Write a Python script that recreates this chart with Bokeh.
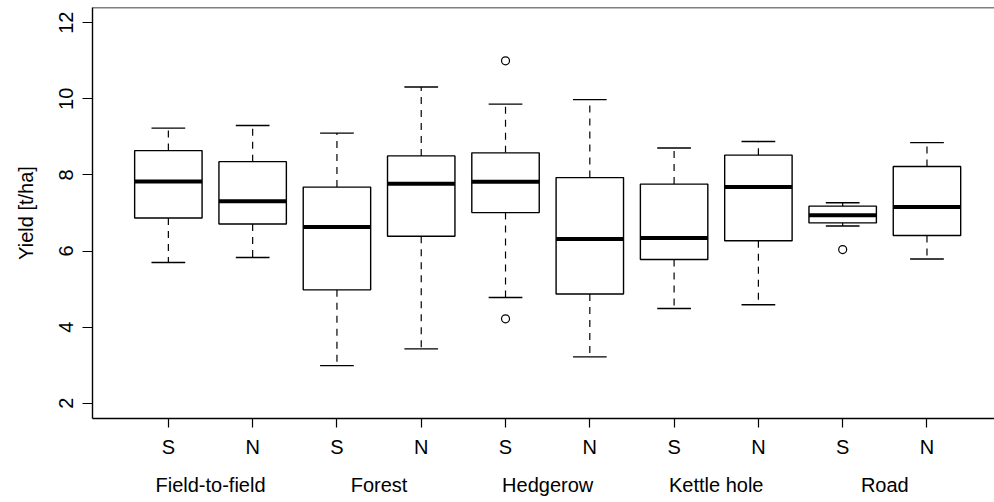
from bokeh.plotting import figure
from bokeh.models import Range1d, FixedTicker, LinearAxis, Span, ColumnDataSource
from bokeh.embed import file_html
from bokeh.resources import INLINE

# ---- data ----
groups = ["Field-to-field", "Forest", "Hedgerow", "Kettle hole", "Road"]
sides = ["S", "N", "S", "N", "S", "N", "S", "N", "S", "N"]
lower_whisker = [5.70, 5.83, 2.99, 3.43, 4.78, 3.22, 4.49, 4.59, 6.66, 5.79]
q1 = [6.87, 6.71, 4.98, 6.39, 7.01, 4.87, 5.78, 6.27, 6.74, 6.41]
median = [7.83, 7.31, 6.63, 7.77, 7.82, 6.32, 6.34, 7.68, 6.94, 7.16]
q3 = [8.64, 8.35, 7.68, 8.50, 8.58, 7.93, 7.76, 8.52, 7.18, 8.22]
upper_whisker = [9.23, 9.30, 9.10, 10.31, 9.86, 9.98, 8.71, 8.88, 7.27, 8.85]
outlier_box = [5, 5, 9]          # 1-based box index
outlier_val = [11.0, 4.22, 6.04]
y_ticks = [2, 4, 6, 8, 10, 12]

FONT = "Liberation Sans"
FS = "20px"
BOX_W = 0.8
CAP_W = 0.4

pos = list(range(1, len(sides) + 1))
src = ColumnDataSource(dict(
    x=pos,
    xl=[x - BOX_W / 2 for x in pos], xr=[x + BOX_W / 2 for x in pos],
    cl=[x - CAP_W / 2 for x in pos], cr=[x + CAP_W / 2 for x in pos],
    lw=lower_whisker, q1=q1, med=median, q3=q3, uw=upper_whisker,
))

p = figure(width=994, height=502, output_backend="svg", toolbar_location=None,
           x_range=Range1d(0.1, 0.1 + 902 / 84.29), y_range=Range1d(1.6, 12.4),
           min_border_left=92, min_border_right=0, min_border_top=7, min_border_bottom=84)
p.grid.visible = False
p.outline_line_color = None
p.background_fill_color = "white"
p.border_fill_color = "white"

# whiskers (dashed)
p.segment(x0="x", x1="x", y0="q3", y1="uw", source=src, line_color="black",
          line_width=1.2, line_dash="7 6")
p.segment(x0="x", x1="x", y0="q1", y1="lw", source=src, line_color="black",
          line_width=1.2, line_dash="7 6")
# caps
p.segment(x0="cl", x1="cr", y0="uw", y1="uw", source=src, line_color="black", line_width=1.4)
p.segment(x0="cl", x1="cr", y0="lw", y1="lw", source=src, line_color="black", line_width=1.4)
# boxes
p.quad(left="xl", right="xr", bottom="q1", top="q3", source=src,
       fill_color="white", line_color="black", line_width=1.4)
# medians
p.segment(x0="xl", x1="xr", y0="med", y1="med", source=src, line_color="black", line_width=4)
# outliers
p.scatter(x=outlier_box, y=outlier_val, marker="circle", size=8,
          fill_color=None, line_color="black", line_width=1.2)

# top border
p.add_layout(Span(location=12.4, dimension="width", line_color="black", line_width=1.4))

# x axis (S / N)
xa = p.xaxis[0]
xa.ticker = FixedTicker(ticks=pos)
xa.major_label_overrides = {x: s for x, s in zip(pos, sides)}
xa.minor_tick_line_color = None
xa.major_tick_in = 0
xa.major_tick_out = 9
xa.major_tick_line_width = 1.2
xa.axis_line_width = 1.4
xa.major_label_standoff = 8
xa.major_label_text_font = FONT
xa.major_label_text_font_size = FS
xa.major_label_text_color = "black"

# group labels axis
gpos = [1.5 + 2 * i for i in range(len(groups))]
ga = LinearAxis(ticker=FixedTicker(ticks=gpos),
                major_label_overrides={g: n for g, n in zip(gpos, groups)})
ga.axis_line_color = None
ga.major_tick_line_color = None
ga.minor_tick_line_color = None
ga.major_tick_out = 0
ga.major_tick_in = 0
ga.major_label_standoff = 13
ga.major_label_text_font = FONT
ga.major_label_text_font_size = FS
ga.major_label_text_color = "black"
p.add_layout(ga, "below")

# y axis
ya = p.yaxis[0]
ya.ticker = FixedTicker(ticks=y_ticks)
ya.minor_tick_line_color = None
ya.major_tick_in = 0
ya.major_tick_out = 10
ya.major_tick_line_width = 1.2
ya.axis_line_width = 1.4
ya.major_label_orientation = "vertical"
ya.major_label_standoff = 9
ya.major_label_text_font = FONT
ya.major_label_text_font_size = FS
ya.major_label_text_color = "black"
ya.axis_label = "Yield [t/ha]"
ya.axis_label_text_font = FONT
ya.axis_label_text_font_size = FS
ya.axis_label_text_font_style = "normal"
ya.axis_label_text_color = "black"
ya.axis_label_standoff = 20

open("out.html", "w").write(file_html(p, INLINE))
